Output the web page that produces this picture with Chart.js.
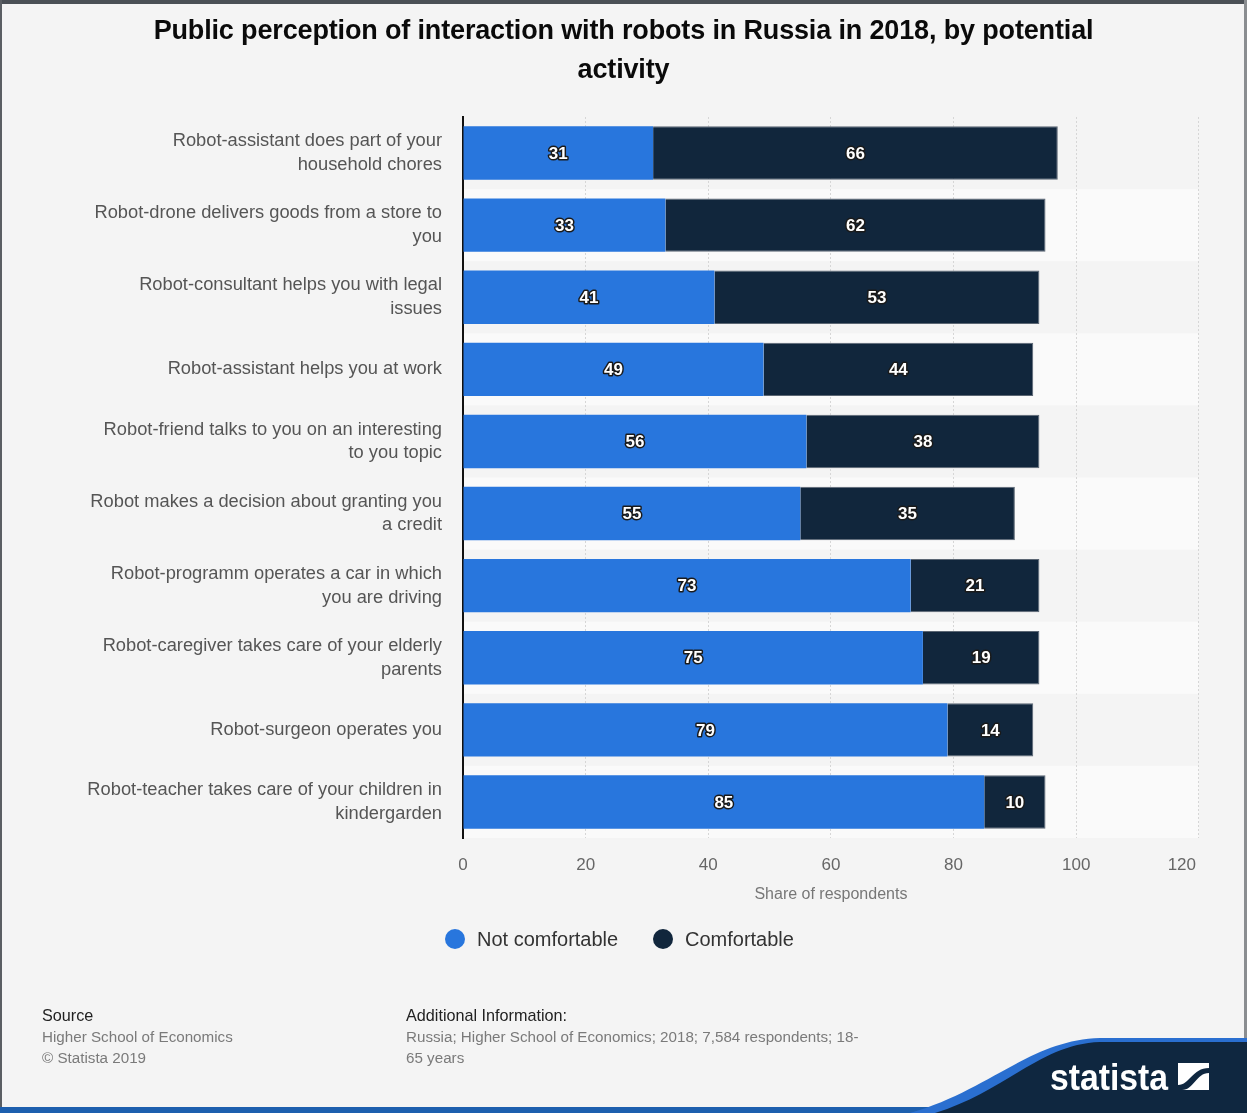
<!DOCTYPE html>
<html>
<head>
<meta charset="utf-8">
<script src="https://cdn.jsdelivr.net/npm/chart.js@4/dist/chart.umd.min.js"></script>
<style>
  html, body { margin:0; padding:0; background:#f4f4f4; }
  body { width:1247px; height:1113px; position:relative; overflow:hidden; font-family:"Liberation Sans", Arial, sans-serif; }
  #frameTop { position:absolute; left:0; top:0; width:1247px; height:4px; background:#4b5056; }
  #frameLeft { position:absolute; left:0; top:0; width:2px; height:1113px; background:#5a5e63; }
  #frameRight { position:absolute; right:0; top:0; width:3px; height:1113px; background:#8a8d90; }
  #c { position:absolute; left:0; top:0; }
  #title { position:absolute; left:0; top:11px; width:1247px; text-align:center; font-weight:bold; font-size:27px; line-height:39px; color:#0a0a0a; letter-spacing:-0.15px; }
  #legend { position:absolute; top:926px; left:0; width:1247px; height:26px; font-size:20px; color:#333; }
  .lg { position:absolute; top:0; display:flex; align-items:center; height:26px; }
  .dot { width:20px; height:20px; border-radius:50%; margin-right:12px; }
  .foot { position:absolute; font-size:15.2px; color:#7a7a7a; line-height:21px; }
  .foot b { font-weight:normal; color:#222; font-size:16.2px; }
  #logo { position:absolute; left:0; top:0; }
</style>
</head>
<body>
<div id="frameTop"></div>
<div id="frameLeft"></div>
<div id="frameRight"></div>
<canvas id="c" width="1247" height="1113"></canvas>
<div id="title">Public perception of interaction with robots in Russia in 2018, by potential<br>activity</div>
<div id="legend">
  <div class="lg" style="left:445px;"><span class="dot" style="background:#2876dd"></span><span>Not comfortable</span></div>
  <div class="lg" style="left:653px;"><span class="dot" style="background:#11263c"></span><span>Comfortable</span></div>
</div>
<div class="foot" style="left:42px; top:1005px;"><b>Source</b><br>Higher School of Economics<br>© Statista 2019</div>
<div class="foot" style="left:406px; top:1005px;"><b>Additional Information:</b><br>Russia; Higher School of Economics; 2018; 7,584 respondents; 18-<br>65 years</div>
<svg id="logo" width="1247" height="1113" viewBox="0 0 1247 1113">
  <rect x="0" y="1107" width="1247" height="6" fill="#1d5fae"/>
  <path d="M910 1113 C990 1090, 1030 1040, 1100 1038 L1247 1038 L1247 1113 Z" fill="#2a6fd0"/>
  <path d="M935 1113 C1005 1092, 1040 1044, 1100 1042 L1247 1042 L1247 1113 Z" fill="#0f2740"/>
  <text x="1050" y="1090" fill="#ffffff" font-family="Liberation Sans, Arial, sans-serif" font-weight="bold" font-size="36" textLength="118" lengthAdjust="spacingAndGlyphs">statista</text>
  <rect x="1178" y="1063" width="31" height="27" fill="#ffffff"/>
  <path d="M1178 1085 C1190 1085, 1192 1068, 1209 1068 L1209 1073 C1196 1073, 1194 1090, 1182 1090 L1178 1090 Z" fill="#0f2740"/>
</svg>
<script>
const categories = [
  ["Robot-assistant does part of your", "household chores"],
  ["Robot-drone delivers goods from a store to", "you"],
  ["Robot-consultant helps you with legal", "issues"],
  ["Robot-assistant helps you at work"],
  ["Robot-friend talks to you on an interesting", "to you topic"],
  ["Robot makes a decision about granting you", "a credit"],
  ["Robot-programm operates a car in which", "you are driving"],
  ["Robot-caregiver takes care of your elderly", "parents"],
  ["Robot-surgeon operates you"],
  ["Robot-teacher takes care of your children in", "kindergarden"]
];
const notComfortable = [31, 33, 41, 49, 56, 55, 73, 75, 79, 85];
const comfortable = [66, 62, 53, 44, 38, 35, 21, 19, 14, 10];
const xTicks = [0, 20, 40, 60, 80, 100, 120];

const bandPlugin = {
  id: 'bands',
  beforeDraw(chart) {
    const {ctx, chartArea, scales} = chart;
    const y = scales.y;
    ctx.save();
    ctx.fillStyle = '#fafafa';
    for (let i = 0; i < categories.length; i++) {
      if (i % 2 === 1) {
        const c = y.getPixelForValue(i);
        const h = (y.bottom - y.top) / categories.length;
        ctx.fillRect(chartArea.left, c - h / 2, chartArea.right - chartArea.left, h);
      }
    }
    ctx.restore();
  }
};

const labelPlugin = {
  id: 'vlabels',
  afterDatasetsDraw(chart) {
    const {ctx} = chart;
    ctx.save();
    ctx.font = 'bold 17px "Liberation Sans", Arial, sans-serif';
    ctx.textAlign = 'center';
    ctx.textBaseline = 'middle';
    ctx.lineJoin = 'round';
    chart.data.datasets.forEach((ds, di) => {
      const meta = chart.getDatasetMeta(di);
      meta.data.forEach((bar, i) => {
        const x = (bar.x + bar.base) / 2;
        const yy = bar.y + 1;
        const t = String(ds.data[i]);
        ctx.lineWidth = 3;
        ctx.strokeStyle = '#1a1a1a';
        ctx.strokeText(t, x, yy);
        ctx.fillStyle = '#ffffff';
        ctx.fillText(t, x, yy);
      });
    });
    ctx.restore();
  }
};

new Chart(document.getElementById('c'), {
  type: 'bar',
  data: {
    labels: categories,
    datasets: [
      { label: 'Not comfortable', data: notComfortable, backgroundColor: '#2876dd', borderWidth: 0 },
      { label: 'Comfortable', data: comfortable, backgroundColor: '#11263c', borderColor: '#5b6673', borderWidth: 1, borderSkipped: 'left' }
    ]
  },
  options: {
    indexAxis: 'y',
    responsive: false,
    animation: false,
    devicePixelRatio: 1,
    layout: { padding: { left: 0, right: 45, top: 117, bottom: 207 } },
    datasets: { bar: { categoryPercentage: 0.74, barPercentage: 1.0 } },
    plugins: { legend: { display: false }, title: { display: false }, tooltip: { enabled: false } },
    scales: {
      x: {
        stacked: true,
        min: 0, max: 120,
        afterBuildTicks(scale) { scale.ticks = xTicks.map(v => ({ value: v })); },
        afterFit(scale) { scale.height = 68; },
        grid: { color: '#d6d6d6', drawTicks: false, lineWidth: 1 },
        border: { display: false, dash: [2, 2] },
        ticks: {
          padding: 17, color: '#666',
          font: { size: 17, family: '"Liberation Sans", Arial, sans-serif' },
          callback: (v) => v === 120 ? '120' + '\u2002'.repeat(4) : String(v)
        },
        title: { display: true, text: 'Share of respondents', color: '#777', font: { size: 16, family: '"Liberation Sans", Arial, sans-serif' }, padding: { top: 0, bottom: 2 } }
      },
      y: {
        stacked: true,
        afterFit(scale) { scale.width = 463; },
        grid: { display: false, drawTicks: false },
        border: { display: true, color: '#111', width: 2 },
        ticks: { padding: 21, color: '#555', font: { size: 18.3, family: '"Liberation Sans", Arial, sans-serif', lineHeight: 1.3 } }
      }
    }
  },
  plugins: [bandPlugin, labelPlugin]
});
</script>
</body>
</html>
